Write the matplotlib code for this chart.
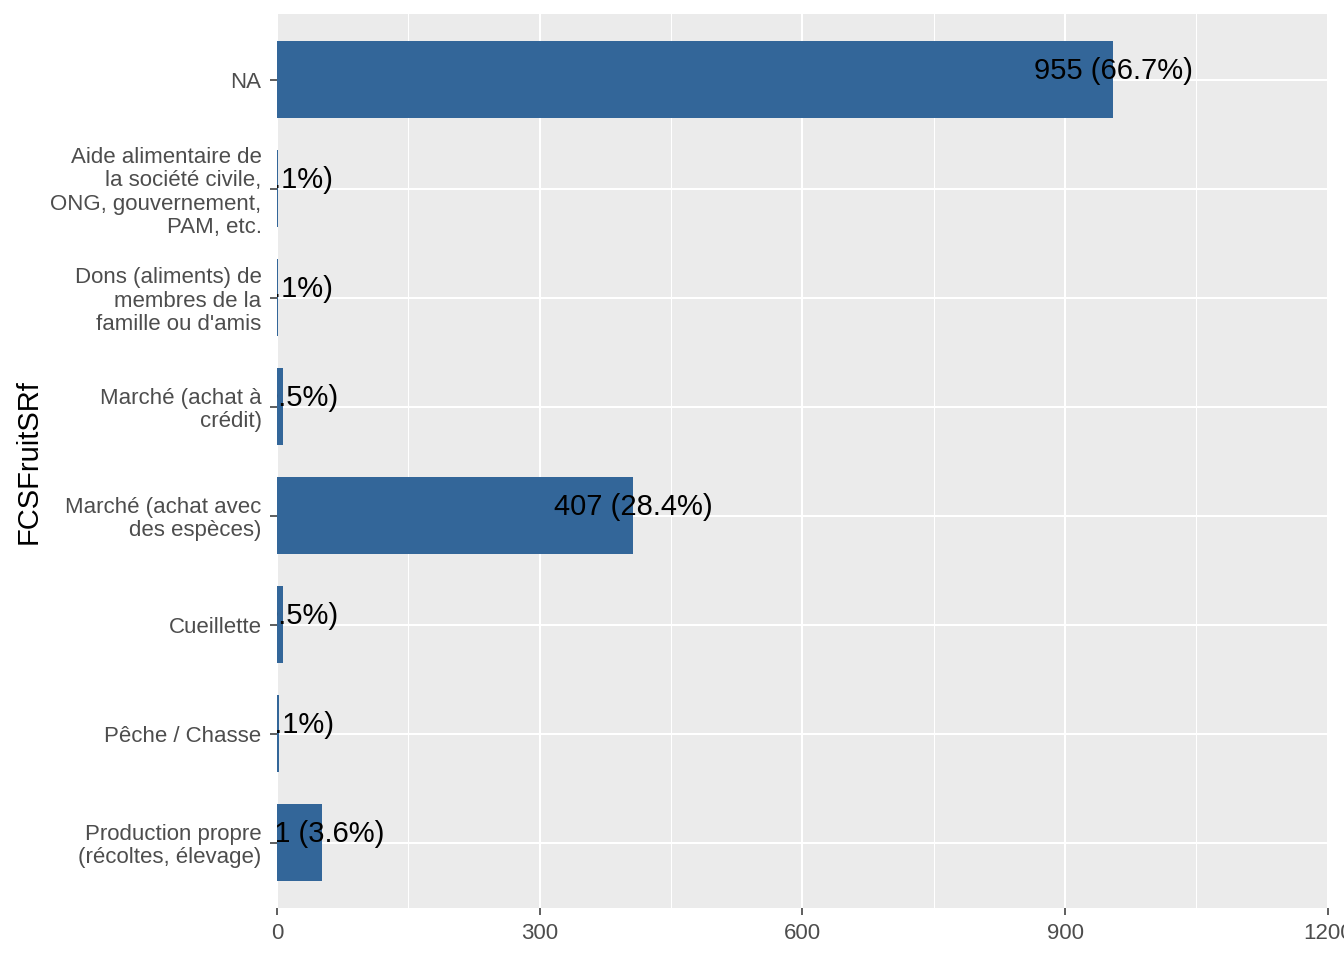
import matplotlib.pyplot as plt
from matplotlib.ticker import MultipleLocator

plt.rcParams['font.family'] = ['Liberation Sans', 'DejaVu Sans']

# categories from bottom to top (ggplot order)
categories = [
    "Production propre\n(récoltes, élevage)",
    "Pêche / Chasse",
    "Cueillette",
    "Marché (achat avec\ndes espèces)",
    "Marché (achat à\ncrédit)",
    "Dons (aliments) de\nmembres de la\nfamille ou d'amis",
    "Aide alimentaire de\nla société civile,\nONG, gouvernement,\nPAM, etc.",
    "NA",
]
counts = [51, 2, 7, 407, 7, 1, 1, 955]
x_ticks = [0, 300, 600, 900, 1200]

total = sum(counts)
labels = [f"{c} ({100 * c / total:.1f}%)" for c in counts]

fig = plt.figure(figsize=(13.44, 9.6), dpi=100)
ax = fig.add_axes([0.206, 0.0542, 0.782, 0.931])
ax.set_facecolor('#EBEBEB')

ypos = list(range(1, len(categories) + 1))
ax.barh(ypos, counts, height=0.7, color='#336699', zorder=2)

# labels centred on the bar end, clipped by the panel like ggplot
for y, c, lab in zip(ypos, counts, labels):
    t = ax.text(c, y + 0.08, lab, ha='center', va='center', fontsize=21,
                color='black', zorder=3, clip_on=True)
    t.set_clip_box(ax.bbox)

ax.set_xlim(0, 1200)
ax.set_ylim(0.4, len(categories) + 0.6)
ax.set_xticks(x_ticks)
ax.set_xticklabels([str(v) for v in x_ticks])
ax.xaxis.set_minor_locator(MultipleLocator(150))
ax.set_yticks(ypos)
ax.set_yticklabels(categories, linespacing=1.15)

ax.grid(which='major', color='white', linewidth=1.5, zorder=1)
ax.grid(which='minor', axis='x', color='white', linewidth=0.75, zorder=1)
ax.set_axisbelow(True)

for s in ax.spines.values():
    s.set_visible(False)

ax.tick_params(axis='both', which='major', length=5, width=1.1, color='#333333',
               labelsize=16, labelcolor='#4D4D4D', pad=6)
ax.tick_params(axis='x', which='minor', length=0)

ax.set_ylabel('FCSFruitSRf', fontsize=21, color='black', labelpad=6)

fig.savefig('out.png', dpi=100)
